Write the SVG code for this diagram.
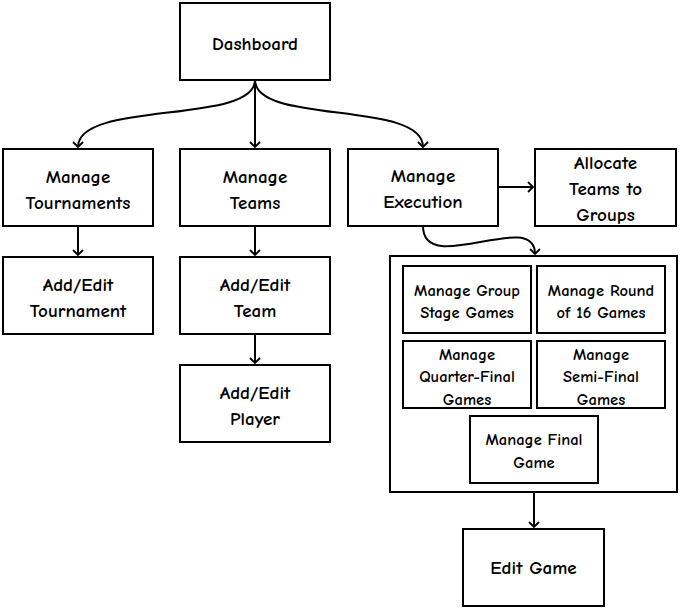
<svg xmlns="http://www.w3.org/2000/svg" width="680" height="610" viewBox="0 0 680 610">
<style>
.box{fill:#fff;stroke:#000;stroke-width:2}
.t{font-family:"Comic Sans MS","Comic Neue","DejaVu Sans",sans-serif;font-weight:bold;font-size:19px;text-anchor:middle;fill:#000}
.s{font-family:"Comic Sans MS","Comic Neue","DejaVu Sans",sans-serif;font-weight:bold;font-size:16.5px;text-anchor:middle;fill:#000}
.c{fill:none;stroke:#000;stroke-width:2}
</style>
<defs>
<marker id="arr" markerUnits="userSpaceOnUse" markerWidth="14" markerHeight="14" viewBox="-7 -7 14 14" refX="0" refY="0" orient="auto">
<path d="M-5,-5 L0,0 L-5,5" fill="none" stroke="#000" stroke-width="1.8"/>
</marker>
</defs>
<rect width="680" height="610" fill="#fff"/>
<g id="connectors">
<path class="c" d="M255,80 C255,125 78,100 78,147" marker-end="url(#arr)"/>
<path class="c" d="M255,80 L255,147" marker-end="url(#arr)"/>
<path class="c" d="M255,80 C255,125 423,100 423,147" marker-end="url(#arr)"/>
<path class="c" d="M78,226 L78,255" marker-end="url(#arr)"/>
<path class="c" d="M255,226 L255,255" marker-end="url(#arr)"/>
<path class="c" d="M255,334 L255,363" marker-end="url(#arr)"/>
<path class="c" d="M498,187 L533,187" marker-end="url(#arr)"/>
<path class="c" d="M423,226 C423,278 535,208 535,254" marker-end="url(#arr)"/>
<path class="c" d="M534,492 L534,527" marker-end="url(#arr)"/>
</g>
<g id="dashboard"><rect class="box" x="180" y="3" width="150" height="77"/><text class="t" x="255" y="50">Dashboard</text></g>
<g id="manage-tournaments"><rect class="box" x="3" y="149" width="150" height="77"/><text class="t" x="78" y="183">Manage</text><text class="t" x="78" y="209">Tournaments</text></g>
<g id="manage-teams"><rect class="box" x="180" y="149" width="150" height="77"/><text class="t" x="255" y="183">Manage</text><text class="t" x="255" y="209">Teams</text></g>
<g id="manage-execution"><rect class="box" x="348" y="149" width="150" height="77"/><text class="t" x="423" y="182">Manage</text><text class="t" x="423" y="208">Execution</text></g>
<g id="allocate"><rect class="box" x="535" y="149" width="141" height="77"/><text class="t" x="605.5" y="169">Allocate</text><text class="t" x="605.5" y="195">Teams to</text><text class="t" x="605.5" y="221">Groups</text></g>
<g id="add-edit-tournament"><rect class="box" x="3" y="257" width="150" height="77"/><text class="t" x="78" y="291">Add/Edit</text><text class="t" x="78" y="317">Tournament</text></g>
<g id="add-edit-team"><rect class="box" x="180" y="257" width="150" height="77"/><text class="t" x="255" y="291">Add/Edit</text><text class="t" x="255" y="317">Team</text></g>
<g id="add-edit-player"><rect class="box" x="180" y="365" width="150" height="77"/><text class="t" x="255" y="399">Add/Edit</text><text class="t" x="255" y="425">Player</text></g>
<g id="games-container"><rect class="box" x="390" y="256" width="287" height="236"/></g>
<g id="group-stage"><rect class="box" x="403" y="266" width="128" height="67"/><text class="s" x="467" y="296">Manage Group</text><text class="s" x="467" y="318">Stage Games</text></g>
<g id="round-16"><rect class="box" x="537" y="266" width="128" height="67"/><text class="s" x="601" y="296">Manage Round</text><text class="s" x="601" y="318">of 16 Games</text></g>
<g id="quarter-final"><rect class="box" x="403" y="341" width="128" height="67"/><text class="s" x="467" y="360">Manage</text><text class="s" x="467" y="382">Quarter-Final</text><text class="s" x="467" y="405">Games</text></g>
<g id="semi-final"><rect class="box" x="537" y="341" width="128" height="67"/><text class="s" x="601" y="360">Manage</text><text class="s" x="601" y="382">Semi-Final</text><text class="s" x="601" y="405">Games</text></g>
<g id="final"><rect class="box" x="470" y="416" width="128" height="67"/><text class="s" x="534" y="445">Manage Final</text><text class="s" x="534" y="468">Game</text></g>
<g id="edit-game"><rect class="box" x="463" y="529" width="141" height="77"/><text class="t" x="533.5" y="574">Edit Game</text></g>
</svg>
